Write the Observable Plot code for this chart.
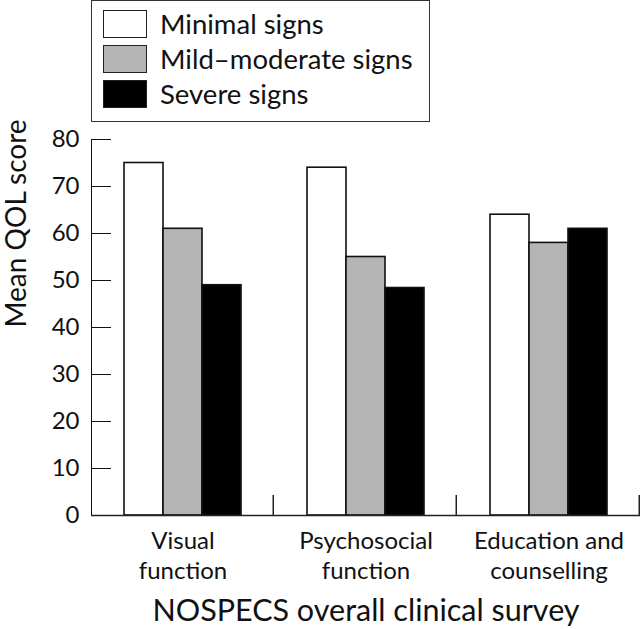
<!DOCTYPE html>
<html>
<head>
<meta charset="utf-8">
<script src="https://cdn.jsdelivr.net/npm/d3@7"></script>
<script src="https://cdn.jsdelivr.net/npm/@observablehq/plot@0.6"></script>
<style>
  html, body { margin: 0; padding: 0; background: #fff; }
  body { width: 640px; height: 629px; overflow: hidden; font-family: Lato, "Open Sans", sans-serif; color: #111; }
  #legend { position: relative; height: 128px; }
  #legend .box { position: absolute; left: 91px; top: 0; width: 339px; height: 122px; box-sizing: border-box; border: 1.5px solid #333; }
  #legend .row { position: absolute; left: 11px; height: 35px; display: flex; align-items: center; }
  #legend .sw { width: 44px; height: 28px; box-sizing: border-box; border: 1.5px solid #222; margin-right: 13px; }
  #legend .lab { font-size: 27.5px; line-height: 35px; white-space: nowrap; }
</style>
</head>
<body>
<div id="legend"><div class="box"></div></div>
<div id="chart"></div>
<script>
// ---- data ----
const categories = ["Visual function", "Psychosocial function", "Education and counselling"];
const categoryLabels = ["Visual\nfunction", "Psychosocial\nfunction", "Education and\ncounselling"];
const series = ["Minimal signs", "Mild\u2013moderate signs", "Severe signs"];
const minimalSigns = [75, 74, 64];
const mildModerateSigns = [61, 55, 58];
const severeSigns = [49, 48.4, 61];
const yTicks = [0, 10, 20, 30, 40, 50, 60, 70, 80];
const yLabel = "Mean QOL score";
const xLabel = "NOSPECS overall clinical survey";
const seriesColors = ["#ffffff", "#b4b4b4", "#000000"];

const seriesValues = [minimalSigns, mildModerateSigns, severeSigns];
const rows = [];
categories.forEach((c, i) => {
  series.forEach((s, j) => rows.push({category: c, series: s, value: seriesValues[j][i]}));
});
const labelOf = new Map(categories.map((c, i) => [c, categoryLabels[i]]));

// ---- legend (HTML above the SVG) ----
const box = document.querySelector("#legend .box");
series.forEach((s, j) => {
  const row = document.createElement("div");
  row.className = "row";
  row.style.top = (5 + j * 35) + "px";
  const sw = document.createElement("div");
  sw.className = "sw";
  sw.style.background = seriesColors[j];
  const lab = document.createElement("span");
  lab.className = "lab";
  lab.textContent = s;
  row.append(sw, lab);
  box.append(row);
});

// group separator ticks at the right edge of each facet
function facetEdgeTicks(index, scales, values, dimensions) {
  const x = dimensions.width - dimensions.marginRight - 0.75;
  const y0 = scales.y(0);
  return d3.create("svg:path")
    .attr("d", `M${x},${y0}V${y0 - 20}`)
    .attr("stroke", "#222")
    .attr("stroke-width", 1.5)
    .attr("fill", "none")
    .node();
}

const chart = Plot.plot({
  width: 640,
  height: 501,
  marginTop: 11,
  marginBottom: 114,
  marginLeft: 91,
  marginRight: 0,
  style: {fontFamily: "Lato, 'Open Sans', sans-serif", fontSize: "24px", color: "#111", background: "#fff", overflow: "visible"},
  fx: {domain: categories, paddingInner: 0, paddingOuter: 0, axis: null},
  x: {domain: series, paddingInner: 0, paddingOuter: 0.79, axis: null},
  y: {domain: [0, 80], ticks: yTicks, tickSize: -20, tickPadding: 32, line: true, label: null},
  color: {domain: series, range: seriesColors},
  marks: [
    Plot.barY(rows, {fx: "category", x: "series", y: "value", fill: "series", stroke: "#111", strokeWidth: 1.6}),
    Plot.ruleY([0], {stroke: "#222", strokeWidth: 1.5}),
    facetEdgeTicks,
    Plot.text(categories, {fx: d => d, text: d => labelOf.get(d), frameAnchor: "bottom", lineAnchor: "top", dy: 12, lineHeight: 1.25, fontSize: 24, fill: "#111"}),
    Plot.text([yLabel], {text: d => d, frameAnchor: "left", rotate: -90, dx: -74, fontSize: 28, fill: "#111", facet: "super"}),
    Plot.text([xLabel], {text: d => d, frameAnchor: "bottom", lineAnchor: "top", dy: 84, fontSize: 30.5, fill: "#111", facet: "super"})
  ]
});
document.getElementById("chart").append(chart);
</script>
</body>
</html>
